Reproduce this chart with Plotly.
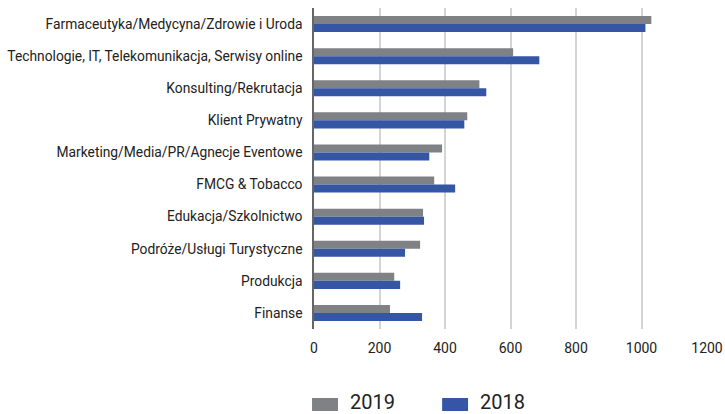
import plotly.graph_objects as go

# categories from top to bottom
branze = [
    "Farmaceutyka/Medycyna/Zdrowie i Uroda",
    "Technologie, IT, Telekomunikacja, Serwisy online",
    "Konsulting/Rekrutacja",
    "Klient Prywatny",
    "Marketing/Media/PR/Agnecje Eventowe",
    "FMCG & Tobacco",
    "Edukacja/Szkolnictwo",
    "Podróże/Usługi Turystyczne",
    "Produkcja",
    "Finanse",
]
wartosci_2019 = [1030, 608, 505, 468, 391, 367, 333, 324, 245, 232]
wartosci_2018 = [1012, 688, 526, 459, 352, 431, 336, 278, 263, 330]
x_ticks = [0, 200, 400, 600, 800, 1000, 1200]
lata = ["2019", "2018"]

FONT = "Roboto"
GRAY = "#808185"
BLUE = "#3456a4"
kolory = [GRAY, BLUE]

fig = go.Figure()
fig.add_trace(go.Bar(y=branze, x=wartosci_2019, name=lata[0], orientation="h",
                     marker=dict(color=GRAY, line=dict(width=0))))
fig.add_trace(go.Bar(y=branze, x=wartosci_2018, name=lata[1], orientation="h",
                     marker=dict(color=BLUE, line=dict(width=0))))

# legend drawn by hand: wide swatches + large text
legend_x = [-0.005, 0.326]
for rok, kolor, lx in zip(lata, kolory, legend_x):
    fig.add_shape(type="rect", xref="paper", yref="paper",
                  x0=lx, x1=lx + 0.066, y0=-0.215, y1=-0.2555,
                  fillcolor=kolor, line=dict(width=0))
    fig.add_annotation(xref="paper", yref="paper", x=lx + 0.092, y=-0.2274,
                       text=rok, showarrow=False, xanchor="left",
                       yanchor="middle", font=dict(size=20, color="#222222"))

fig.update_layout(
    width=725, height=414,
    margin=dict(l=314, r=18, t=8, b=85),
    plot_bgcolor="white", paper_bgcolor="white",
    barmode="group", bargap=0.5, bargroupgap=0,
    font=dict(family=FONT, color="#222222", size=12),
    showlegend=False,
)
fig.update_xaxes(range=[0, 1200], tickvals=x_ticks, showgrid=True,
                 gridcolor="#d4d4d4", gridwidth=1.5, zeroline=False,
                 showline=False, ticks="", tickfont=dict(size=14),
                 ticklabelstandoff=9, automargin=False,
                 ticklabeloverflow="allow")
fig.update_yaxes(autorange="reversed", showline=True, linecolor="#666666",
                 linewidth=1.5, ticks="", ticklabelstandoff=7,
                 tickfont=dict(size=13.8), automargin=False)

# drop the default body margin so the figure fills the window exactly
fig.write_html("out.html", config={"displayModeBar": False},
               post_script="document.body.style.margin='0';")
